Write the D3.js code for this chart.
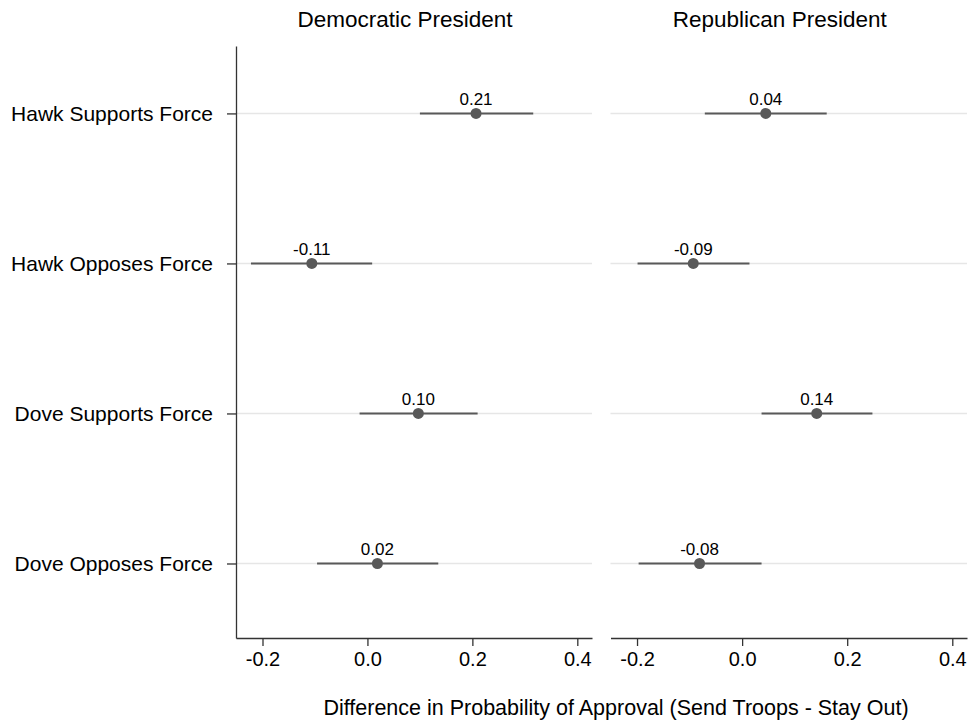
<!DOCTYPE html>
<html>
<head>
<meta charset="utf-8">
<script src="https://cdn.jsdelivr.net/npm/d3@7"></script>
<style>
  body { margin: 0; background: #fff; }
  text { font-family: "Liberation Sans", Arial, sans-serif; fill: #000; }
</style>
</head>
<body>
<svg id="chart" width="972" height="727"></svg>
<script>
(function() {

	var rows = ['Hawk Supports Force', 'Hawk Opposes Force', 'Dove Supports Force', 'Dove Opposes Force'];
	var panels = ['Democratic President', 'Republican President'];

	// point estimates and 95% intervals
	var demEst = [0.207, -0.106, 0.097, 0.019];
	var demLo = [0.100, -0.222, -0.015, -0.096];
	var demHi = [0.316, 0.009, 0.210, 0.135];
	var repEst = [0.045, -0.093, 0.142, -0.081];
	var repLo = [-0.071, -0.199, 0.037, -0.197];
	var repHi = [0.161, 0.014, 0.248, 0.037];

	var xTicks = [-0.2, 0.0, 0.2, 0.4];
	var xDomain = [-0.2505, 0.428];

	var TOP = 46, BOTTOM = 638;
	var PANEL_X = [[236, 592], [610.5, 967]];
	var INK = '#595959';

	var locale = d3.formatLocale({decimal: '.', thousands: ',', grouping: [3], currency: ['$', ''], minus: '-'});
	var fmt1 = locale.format('.1f');
	var fmt2 = locale.format('.2f');

	var svg = d3.select('#chart');

	// rows sit 150px apart, a bit closer to the top end of the axis
	var y = d3.scalePoint().domain(rows).range([TOP, BOTTOM]).padding(0.473).align(0.475);

	var series = [
		{est: demEst, lo: demLo, hi: demHi},
		{est: repEst, lo: repLo, hi: repHi}
	];

	panels.forEach(function(title, p) {
		var x = d3.scaleLinear().domain(xDomain).range(PANEL_X[p]);
		var g = svg.append('g');

		// light row lines
		g.selectAll('line.grid').data(rows).enter().append('line')
			.attr('class', 'grid')
			.attr('x1', PANEL_X[p][0]).attr('x2', PANEL_X[p][1])
			.attr('y1', function(d) { return y(d); })
			.attr('y2', function(d) { return y(d); })
			.attr('stroke', '#e6e6e6')
			.attr('stroke-width', 1.5);

		// x axis
		var xAxis = g.append('g')
			.attr('transform', 'translate(0,' + BOTTOM + ')')
			.call(d3.axisBottom(x).tickValues(xTicks).tickFormat(fmt1).tickSize(8).tickSizeOuter(0).tickPadding(6));
		xAxis.select('.domain').attr('stroke', '#333').attr('stroke-width', 1.3);
		xAxis.selectAll('.tick line').attr('stroke', '#333').attr('stroke-width', 1.3);
		xAxis.selectAll('.tick text').style('font-size', '20px').attr('fill', '#000');

		// panel title
		g.append('text')
			.attr('x', (PANEL_X[p][0] + PANEL_X[p][1]) / 2 - 9)
			.attr('y', 27)
			.attr('text-anchor', 'middle')
			.style('font-size', '22.5px')
			.text(title);

		var s = series[p];
		var idx = d3.range(rows.length);

		g.selectAll('line.ci').data(idx).enter().append('line')
			.attr('class', 'ci')
			.attr('x1', function(i) { return x(s.lo[i]); })
			.attr('x2', function(i) { return x(s.hi[i]); })
			.attr('y1', function(i) { return y(rows[i]); })
			.attr('y2', function(i) { return y(rows[i]); })
			.attr('stroke', INK)
			.attr('stroke-width', 2);

		g.selectAll('circle.est').data(idx).enter().append('circle')
			.attr('class', 'est')
			.attr('cx', function(i) { return x(s.est[i]); })
			.attr('cy', function(i) { return y(rows[i]); })
			.attr('r', 5.5)
			.attr('fill', INK);

		g.selectAll('text.val').data(idx).enter().append('text')
			.attr('class', 'val')
			.attr('x', function(i) { return x(s.est[i]); })
			.attr('y', function(i) { return y(rows[i]) - 8; })
			.attr('text-anchor', 'middle')
			.style('font-size', '17px')
			.text(function(i) { return fmt2(s.est[i]); });
	});

	// y axis on the left panel only
	var yAxis = svg.append('g')
		.attr('transform', 'translate(' + PANEL_X[0][0] + ',0)')
		.call(d3.axisLeft(y).tickSize(9).tickSizeOuter(0).tickPadding(14));
	yAxis.select('.domain').attr('stroke', '#333').attr('stroke-width', 1.3);
	yAxis.selectAll('.tick line').attr('stroke', '#333').attr('stroke-width', 1.3);
	yAxis.selectAll('.tick text').style('font-size', '21px').attr('fill', '#000');

	// shared x title
	svg.append('text')
		.attr('x', 616)
		.attr('y', 715)
		.attr('text-anchor', 'middle')
		.style('font-size', '21.5px')
		.text('Difference in Probability of Approval (Send Troops - Stay Out)');
}());
</script>
</body>
</html>
